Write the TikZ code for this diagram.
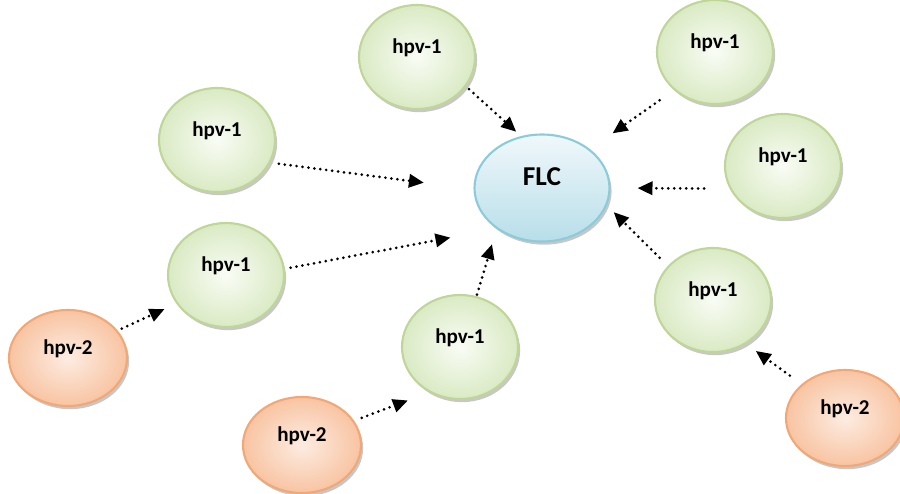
\documentclass[tikz,border=0pt]{standalone}
\usepackage{fontspec}
\setmainfont{Carlito}
\usetikzlibrary{shapes.geometric,arrows.meta,shadows}

\definecolor{greenTop}{RGB}{218,234,196}
\definecolor{greenBot}{RGB}{249,252,245}
\definecolor{greenLine}{RGB}{192,214,152}
\definecolor{orangeTop}{RGB}{248,196,162}
\definecolor{orangeBot}{RGB}{253,236,226}
\definecolor{orangeLine}{RGB}{242,168,118}
\definecolor{blueTop}{RGB}{240,248,251}
\definecolor{blueBot}{RGB}{184,222,233}
\definecolor{blueLine}{RGB}{140,203,218}

\tikzset{
  bubble/.style={ellipse, inner sep=0pt, line width=1.2pt, font=\bfseries\fontsize{12}{14}\selectfont,
    text height=8pt, text depth=12pt,
    drop shadow={shadow xshift=1.2pt, shadow yshift=-1.8pt, opacity=.4, fill=black!55}},
  hpvone/.style={bubble, draw=greenLine, inner color=greenBot, outer color=greenTop,
    minimum width=2.32cm, minimum height=2.08cm},
  hpvtwo/.style={bubble, draw=orangeLine, inner color=orangeBot, outer color=orangeTop,
    minimum width=2.36cm, minimum height=1.92cm},
  center/.style={bubble, draw=blueLine, top color=blueTop, bottom color=blueBot,
    minimum width=2.7cm, minimum height=2.14cm, font=\bfseries\fontsize{15.5}{17}\selectfont,
    text height=11pt, text depth=14pt},
  link/.style={line width=1.7pt, dash pattern=on 0pt off 3.4pt, line cap=round,
    -{Triangle[length=8.5pt,width=7.5pt]}}
}

\begin{document}
\begin{tikzpicture}
        \useasboundingbox (0,0) rectangle (18,-9.86);

        \node[center] (flc) at (10.84,-3.76) {FLC};

        \node[hpvone] (p1) at (8.34,-1.14) {hpv-1};
        \node[hpvone] (p2) at (14.3,-1.04) {hpv-1};
        \node[hpvone] (p3) at (4.34,-2.8) {hpv-1};
        \node[hpvone] (p4) at (15.66,-3.32) {hpv-1};
        \node[hpvone] (p5) at (4.52,-5.5) {hpv-1};
        \node[hpvone] (p6) at (9.2,-6.94) {hpv-1};
        \node[hpvone] (p7) at (14.26,-6.0) {hpv-1};

        \node[hpvtwo] (q1) at (1.36,-7.16) {hpv-2};
        \node[hpvtwo] (q2) at (6.04,-8.9) {hpv-2};
        \node[hpvtwo] (q3) at (16.9,-8.36) {hpv-2};

        % arrows into FLC
        \draw[link, shorten <=0.08cm, shorten >=0.13cm] (p1.-31) -- (flc.112);
        \draw[link, shorten <=0.35cm, shorten >=0.55cm] (p2.223) -- (flc.39);
        \draw[link, shorten <=0.17cm, shorten >=1.0cm] (p3.-23) -- (flc.181);
        \draw[link, shorten <=0.51cm, shorten >=0.54cm] (p4.203) -- (flc.0);
        \draw[link, shorten <=0.12cm, shorten >=0.94cm] (p5.6) -- (flc.222);
        \draw[link, shorten <=0.03cm, shorten >=0.32cm] (p6.72) -- (flc.222);
        \draw[link, shorten <=0.23cm, shorten >=0.19cm] (p7.143) -- (flc.-15);

        % hpv-2 into hpv-1
        \draw[link, shorten <=0.09cm, shorten >=0.26cm] (q1.29) -- (p5.210);
        \draw[link, shorten <=0.16cm, shorten >=0.46cm] (q2.25) -- (p6.236);
        \draw[link, shorten <=0.29cm, shorten >=0.24cm] (q3.142) -- (p7.-53);
\end{tikzpicture}
\end{document}
